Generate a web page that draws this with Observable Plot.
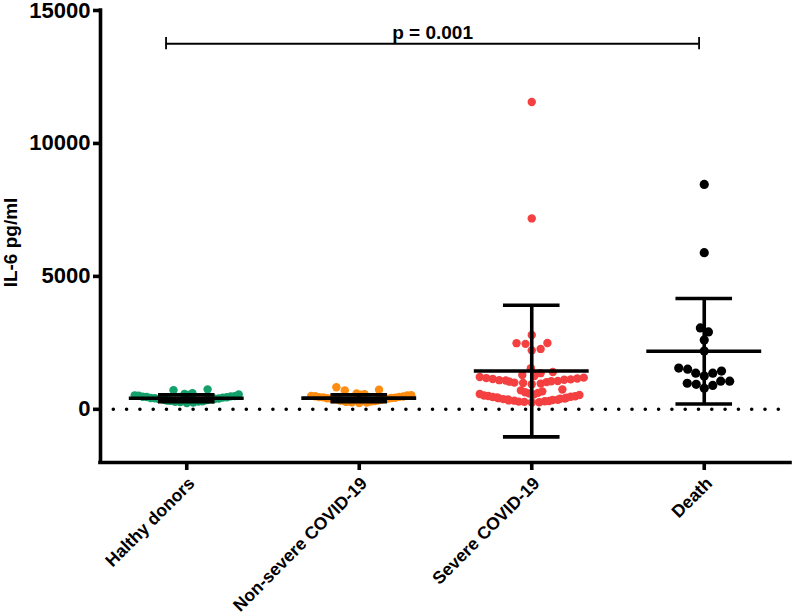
<!DOCTYPE html>
<html><head><meta charset="utf-8">
<script src="https://cdn.jsdelivr.net/npm/d3@7"></script>
<script src="https://cdn.jsdelivr.net/npm/@observablehq/plot@0.6"></script>
<style>
body{margin:0;background:#fff;}
svg{font-family:"Liberation Sans",Arial,Helvetica,sans-serif;font-weight:bold;}
</style>
</head><body><div id="chart"></div>
<script>
// ---- data ----
const groups = ["Halthy donors", "Non-severe COVID-19", "Severe COVID-19", "Death"];
const groupColors = ["#14a06a", "#ff8c10", "#f44040", "#000000"];
const healthy = [236, 258, 271, 284, 293, 305, 317, 326, 338, 349, 357, 366, 378, 389, 398, 407, 419, 428, 440, 452, 463, 475, 488, 497, 512, 526, 541, 558, 577, 603, 716, 751];
const nonSevere = [232, 251, 266, 279, 296, 308, 321, 333, 344, 356, 367, 375, 388, 396, 409, 417, 428, 437, 449, 458, 470, 481, 494, 506, 519, 534, 552, 571, 596, 712, 736, 829];
const severe = [255, 268, 281, 290, 302, 311, 326, 335, 349, 358, 372, 384, 395, 409, 420, 436, 447, 461, 475, 489, 503, 520, 538, 556, 575, 597, 618, 644, 676, 712, 748,
  945, 968, 990, 1005, 1022, 1040, 1055, 1068, 1084, 1097, 1112, 1126, 1140, 1158, 1175, 1192, 1215,
  1255, 1292, 1360, 1402, 1548,
  2218, 2272, 2462, 2488, 2495, 2795,
  7180, 11560];
const death = [790, 900, 940, 980, 1060, 1060, 1250, 1360, 1360, 1440, 1510, 1550, 2190, 2610, 2910, 3060, 5890, 8460];
const means = [415, 420, 1440, 2185];
const sds = [130, 130, 2475, 1985];
const yTicks = [0, 5000, 10000, 15000];
const yLabel = "IL-6 pg/ml";
const pLabel = "p = 0.001";
const bracketX = [0.88, 3.97];
const bracketY = 13750;

// ---- layout ----
const W = 792, H = 615, mL = 100, mR = 2, mT = 10, mB = 153;
const xDom = [0.5, 4.5], yDom = [-2000, 15000];
const kx = (W - mL - mR) / (xDom[1] - xDom[0]);
const ky = (H - mT - mB) / (yDom[1] - yDom[0]);

// beeswarm layout (pixel space), compressed per row to the group width
function swarm(values, gi, d, maxHalf, win) {
  const pts = values.map(v => ({v, py: v * ky, px: 0})).sort((a, b) => a.v - b.v);
  const placed = [];
  for (const p of pts) {
    const near = placed.filter(q => Math.abs(q.py - p.py) < d);
    const cands = [0];
    for (const q of near) {
      const s = Math.sqrt(d * d - (q.py - p.py) ** 2);
      cands.push(q.px + s, q.px - s);
    }
    cands.sort((a, b) => Math.abs(a) - Math.abs(b) || b - a);
    for (const c of cands) {
      if (near.every(q => (q.px - c) ** 2 + (q.py - p.py) ** 2 >= d * d - 1e-6)) { p.px = c; break; }
    }
    placed.push(p);
  }
  return placed.map(p => {
    const m = d3.max(placed.filter(q => Math.abs(q.py - p.py) <= win), q => Math.abs(q.px));
    const f = m > maxHalf ? maxHalf / m : 1;
    return {value: p.v, x: gi + 1 + (p.px * f) / kx};
  });
}

const sets = [healthy, nonSevere, severe, death];
const swarms = sets.map((vals, i) => swarm(vals, i, 9, i === 3 ? 56 : 52, 4));
const summary = groups.map((g, i) => ({x: i + 1, mean: means[i], lo: means[i] - sds[i], hi: means[i] + sds[i]}));
const labels = groups.map((g, i) => ({x: i + 1, label: g}));

const meanHalf = 0.333, capHalf = 0.164;
const plot = Plot.plot({
  width: W, height: H,
  marginLeft: mL, marginRight: mR, marginTop: mT, marginBottom: mB,
  style: {fontFamily: '"Liberation Sans", Arial, sans-serif', fontWeight: "bold", color: "#000", background: "#fff", overflow: "visible"},
  x: {domain: xDom, axis: null},
  y: {domain: yDom, axis: null},
  marks: [
    Plot.ruleY([0], {stroke: "#000", strokeWidth: 3.6, strokeDasharray: "0 13.3", strokeLinecap: "round"}),
    ...swarms.map((s, i) => Plot.dot(s, {x: "x", y: "value", r: i === 3 ? 4.6 : 4.2, fill: groupColors[i], stroke: null})),
    Plot.ruleX(summary, {x: "x", y1: "lo", y2: "hi", stroke: "#000", strokeWidth: 3.6}),
    Plot.ruleY(summary, {y: "mean", x1: d => d.x - meanHalf, x2: d => d.x + meanHalf, stroke: "#000", strokeWidth: 3.6}),
    Plot.ruleY(summary, {y: "hi", x1: d => d.x - capHalf, x2: d => d.x + capHalf, stroke: "#000", strokeWidth: 3.6}),
    Plot.ruleY(summary, {y: "lo", x1: d => d.x - capHalf, x2: d => d.x + capHalf, stroke: "#000", strokeWidth: 3.6}),
    // bracket
    Plot.ruleY([bracketY], {x1: bracketX[0], x2: bracketX[1], stroke: "#000", strokeWidth: 1.8}),
    Plot.ruleX(bracketX, {x: d => d, y1: bracketY - 230, y2: bracketY + 230, stroke: "#000", strokeWidth: 1.8}),
    Plot.text([pLabel], {x: (bracketX[0] + bracketX[1]) / 2, y: bracketY, text: d => d, dy: -5, lineAnchor: "bottom", fontSize: 19, fontWeight: "bold", fill: "#000"}),
    // axes
    Plot.axisY({ticks: yTicks, tickFormat: d => String(d), tickSize: 7, tickPadding: 3, fontSize: 22, strokeWidth: 3.6, label: null}),
    Plot.axisX({ticks: [1, 2, 3, 4], tickFormat: () => "", tickSize: 8, strokeWidth: 3.6, label: null}),
    Plot.text(labels, {x: "x", frameAnchor: "bottom", text: "label", textAnchor: "end", lineAnchor: "middle", rotate: -45, dx: 5, dy: 18, fontSize: 17.5, fontWeight: "bold", fill: "#000"}),
    Plot.ruleX([xDom[0]], {stroke: "#000", strokeWidth: 3.6, strokeLinecap: "square"}),
    Plot.ruleY([yDom[0]], {stroke: "#000", strokeWidth: 3.6, strokeLinecap: "square"}),
    Plot.text([yLabel], {frameAnchor: "left", textAnchor: "middle", text: d => d, rotate: -90, dx: -90, dy: 6, fontSize: 19, fontWeight: "bold", fill: "#000"})
  ]
});
document.getElementById("chart").appendChild(plot);
</script>
</body></html>
